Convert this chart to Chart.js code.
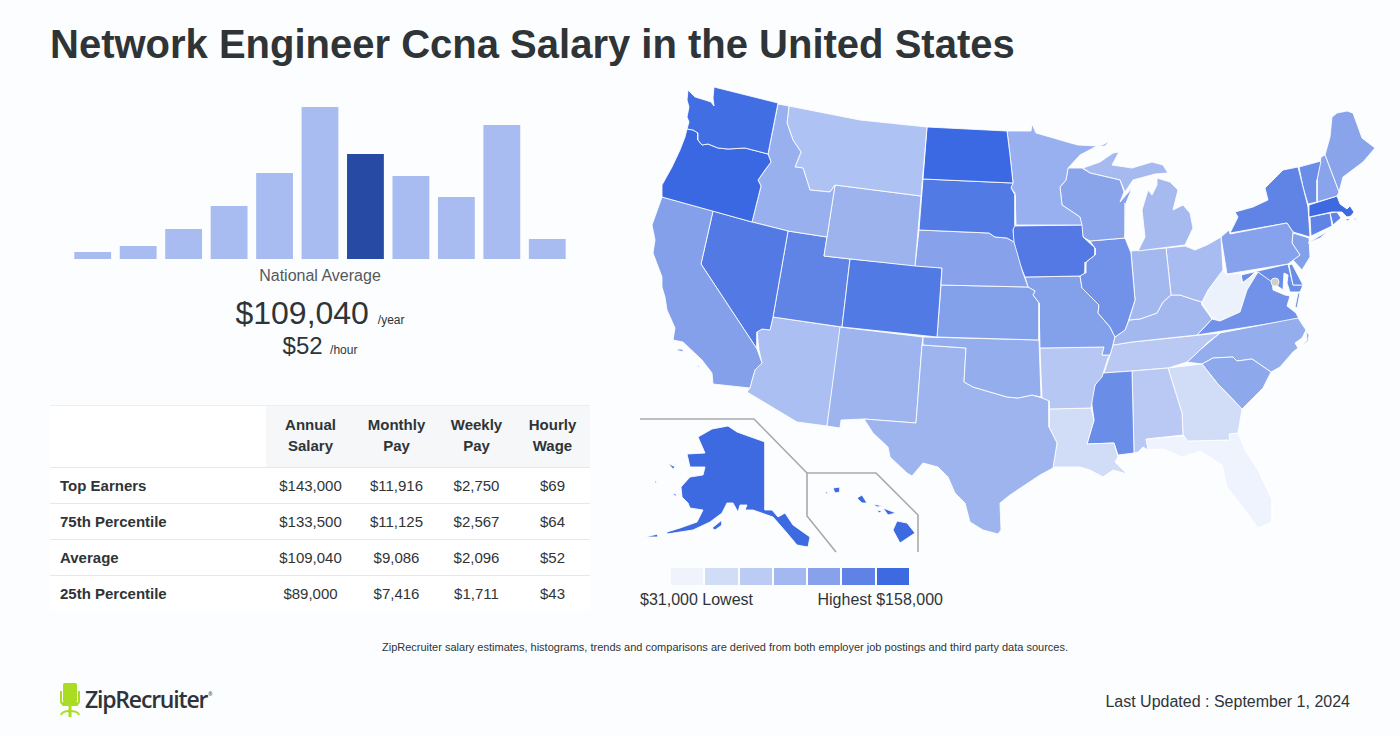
<!DOCTYPE html>
<html>
<head>
<meta charset="utf-8">
<title>Network Engineer Ccna Salary</title>
<script src="https://cdn.jsdelivr.net/npm/chart.js@4"></script>
<style>
  html, body { margin: 0; padding: 0; background: #fbfdff; }
  body { width: 1400px; height: 736px; position: relative; overflow: hidden; font-family: "Liberation Sans", sans-serif; color: #2f3437; }
  .abs { position: absolute; white-space: nowrap; }
  canvas { position: absolute; display: block; }
  h1 { position: absolute; left: 50px; top: 20px; margin: 0; font-size: 40px; line-height: 48px; font-weight: bold; white-space: nowrap; }
  .center { left: 50px; width: 540px; text-align: center; }
  table { position: absolute; left: 50px; top: 405px; width: 540px; border-collapse: collapse; table-layout: fixed; font-size: 15px; background: #fff; }
  th { background: #f6f7f9; font-weight: bold; line-height: 21px; height: 58px; padding: 0 0 3px; text-align: center; }
  th:first-child { background: #fff; }
  thead tr { border-top: 1px solid #eceef0; }
  td { height: 35px; padding: 0; text-align: center; border-top: 1px solid #e6e8ea; }
  td:first-child { text-align: left; padding-left: 10px; font-weight: bold; }
  .swatch { position: absolute; top: 568px; height: 17px; }
</style>
</head>
<body>
<h1>Network Engineer Ccna Salary in the United States</h1>

<canvas id="histChart" width="500" height="152" style="left:70px;top:107px"></canvas>
<div class="abs center" style="top:266px;font-size:16px;line-height:20px;color:#55595c">National Average</div>
<div class="abs center" style="top:294px;line-height:38px"><span style="font-size:32px">$109,040</span> <span style="font-size:12px;margin-left:4.5px">/year</span></div>
<div class="abs center" style="top:331px;line-height:30px"><span style="font-size:24px">$52</span> <span style="font-size:12px;margin-left:3px">/hour</span></div>

<table id="payTable"></table>

<canvas id="mapChart" width="740" height="480" style="left:640px;top:80px"></canvas>
<div id="legendBox"></div>
<div class="abs" style="left:640px;top:590px;font-size:16px;line-height:20px">$31,000 Lowest</div>
<div class="abs" style="left:817.5px;top:590px;font-size:16px;line-height:20px">Highest $158,000</div>

<div class="abs" style="left:0;width:1450px;text-align:center;top:640px;font-size:11px;line-height:14px">ZipRecruiter salary estimates, histograms, trends and comparisons are derived from both employer job postings and third party data sources.</div>

<svg class="abs" style="left:56px;top:680px" width="28" height="40" viewBox="0 0 28 40">
  <rect x="7" y="3" width="14" height="19" rx="1.5" fill="#a9dc22"/>
  <path d="M5 11v10q0 3 3 3h12q3 0 3-3V11" fill="none" stroke="#a9dc22" stroke-width="2"/>
  <rect x="6" y="22" width="16" height="4" rx="1" fill="#a9dc22"/>
  <rect x="12.5" y="25" width="3" height="12" fill="#a9dc22"/>
  <path d="M5 35q1-4 9-4t9 4" fill="none" stroke="#a9dc22" stroke-width="2"/>
</svg>
<div class="abs" style="left:85px;top:684px;font-family:'Open Sans';font-size:23px;line-height:30px;font-weight:600;letter-spacing:-1.2px;color:#2e343a">ZipRecruiter<sup style="font-size:5px;vertical-align:12px;margin-left:1px;line-height:0">®</sup></div>
<div class="abs" style="right:50px;top:692px;font-size:16px;line-height:20px">Last Updated : September 1, 2024</div>

<script>
// histogram
const histBins = ['b1','b2','b3','b4','b5','b6','b7','b8','b9','b10','b11'];
const histShare = [4.6, 8.6, 19.7, 34.9, 56.6, 100, 69.1, 54.6, 40.8, 88.2, 13.2];
const histHighlight = 6;

// pay table
const tableHead = ['', 'Annual<br>Salary', 'Monthly<br>Pay', 'Weekly<br>Pay', 'Hourly<br>Wage'];
const rowLabels = ['Top Earners', '75th Percentile', 'Average', '25th Percentile'];
const annualPay = ['$143,000', '$133,500', '$109,040', '$89,000'];
const monthlyPay = ['$11,916', '$11,125', '$9,086', '$7,416'];
const weeklyPay = ['$2,750', '$2,567', '$2,096', '$1,711'];
const hourlyPay = ['$69', '$64', '$52', '$43'];

// legend
const legendColors = ['#f0f3fc', '#d1dcf7', '#bccbf4', '#a3b7f0', '#87a1eb', '#5f82e6', '#3e6ae1'];
const legendLeft = [671, 705, 740, 774, 808, 842, 877];
const legendWide = [32, 33, 32, 32, 32, 33, 32];

// map outlines, x,y pairs in map units
const WA = [688,90,695,97,705,100,711,102,714,106,713,98,714,87,778,103,768,154,745,148,728,149,718,148,708,144,702,145,698,140,698,133,693,130,687,129,689,122,687,117,689,107,687,100];
const OR = [687,129,693,130,698,133,698,140,702,145,708,144,718,148,728,149,745,148,768,154,771,162,765,170,758,180,761,186,752,222,662,197,662,185,672,167,680,150,685,137];
const CA = [662,197,713,211,701,264,757,349,762,363,755,370,752,380,750,388,713,384,712,373,702,360,683,342,673,340,675,328,667,310,665,297,662,287,662,277,653,253,655,240,652,225];
const CA2 = [676,349,682,349,684,352,679,351];
const CA3 = [697,364,700,367,698,367];
const NV = [713,211,752,222,788,231,773,317,770,330,762,329,757,332,757,349,701,264];
const ID = [778,104,789,106,787,123,793,140,801,152,795,167,803,168,810,190,830,192,835,185,827,237,788,231,752,222,761,186,758,180,771,162,768,154];
const MT = [789,106,860,120,927,127,921,196,835,185,830,192,810,190,803,168,795,167,801,152,793,140,787,123];
const ND = [927,127,1007,131,1010,155,1013,183,923,179];
const SD = [923,179,1013,183,1011,188,1015,195,1015,225,1013,230,1014,242,1007,238,995,237,989,233,919,230];
const WY = [835,185,921,196,915,266,824,256];
const NE = [919,230,989,233,995,237,1007,238,1014,242,1022,270,1028,287,941,285,942,268,915,266];
const CO = [850,259,942,268,937,337,842,327];
const UT = [788,231,827,237,824,256,850,259,842,327,773,317];
const KS = [941,285,1028,287,1035,291,1033,295,1039,303,1039,340,937,337];
const OK = [923,337,1039,340,1041,397,1032,395,1018,398,1007,397,990,392,973,387,964,382,966,348,923,345];
const TX = [922,345,966,348,964,382,973,387,990,392,1007,397,1018,398,1032,395,1042,398,1049,401,1049,427,1057,443,1053,468,1040,475,1010,495,1000,503,1001,530,998,534,983,530,970,522,965,503,955,493,948,477,938,467,923,463,912,476,907,473,890,457,888,447,873,433,864,419,916,423];
const NM = [840,327,923,337,922,345,916,423,864,419,841,420,840,428,827,426];
const AZ = [773,317,841,327,827,426,797,422,747,392,750,388,752,380,755,370,762,363,759,350,757,332,762,329,770,330];
const MN = [1007,131,1031,131,1032,124,1036,133,1050,137,1067,142,1078,145,1097,146,1080,155,1068,168,1066,180,1060,187,1062,205,1080,217,1082,225,1016,225,1015,193,1011,188,1013,182,1010,155];
const IA = [1013,226,1082,225,1083,237,1095,248,1095,255,1086,262,1085,273,1080,276,1025,277,1017,257,1013,240];
const WI = [1068,168,1082,168,1090,173,1120,180,1124,192,1120,202,1132,188,1126,203,1125,238,1090,241,1083,237,1080,217,1062,205,1060,187,1066,180];
const MI1 = [1083,168,1100,162,1113,153,1119,152,1112,165,1132,168,1152,162,1163,165,1168,173,1155,174,1133,180,1125,192,1120,180,1090,173];
const MI2 = [1157,178,1170,182,1178,190,1173,210,1183,205,1190,213,1193,228,1185,245,1138,251,1145,237,1142,210,1148,190,1152,195,1157,185];
const MI3 = [1098,147,1110,141,1105,146];
const IL = [1090,241,1125,238,1131,253,1135,300,1128,322,1125,330,1115,337,1110,327,1098,313,1099,305,1082,288,1080,276,1085,273,1086,262,1095,255,1095,248];
const IN = [1131,251,1166,248,1171,295,1163,302,1157,313,1140,319,1129,320,1135,300];
const OH = [1166,248,1185,246,1195,250,1207,245,1221,237,1223,270,1208,290,1202,302,1195,300,1180,295,1171,295];
const KY = [1171,295,1180,295,1195,300,1202,302,1202,305,1212,319,1197,335,1132,342,1113,345,1115,337,1125,330,1129,320,1140,319,1157,313,1163,302];
const MO = [1025,277,1080,276,1082,288,1099,305,1098,313,1110,327,1115,337,1113,345,1110,355,1102,355,1104,347,1040,348,1039,303,1033,295,1035,291,1028,287];
const AR = [1040,348,1104,347,1102,355,1110,355,1108,358,1102,377,1095,385,1091,408,1049,409,1049,401,1042,398];
const LA = [1049,409,1091,408,1094,420,1087,444,1114,443,1118,457,1115,462,1127,474,1113,470,1103,477,1090,470,1080,467,1053,467,1057,443,1049,427];
const MS = [1103,373,1132,371,1134,453,1118,455,1114,443,1087,444,1094,420,1091,398,1095,385];
const AL = [1132,371,1168,368,1182,413,1183,435,1146,439,1148,450,1143,447,1138,452,1134,453];
const TN = [1113,345,1132,342,1220,333,1207,343,1197,353,1187,362,1168,368,1132,371,1104,373,1110,355];
const GA = [1168,368,1202,364,1217,383,1242,409,1238,433,1229,434,1230,440,1188,441,1183,435,1182,413];
const FL = [1146,439,1183,436,1188,441,1230,440,1229,434,1238,433,1245,450,1258,470,1272,500,1272,522,1258,528,1245,510,1227,487,1222,465,1200,451,1182,457,1163,449,1148,450];
const FL2 = [1250,539,1262,532,1270,525,1264,532];
const SC = [1202,364,1213,358,1233,357,1237,361,1252,359,1271,372,1263,388,1242,409,1217,383];
const NC = [1187,362,1200,350,1220,333,1298,318,1306,330,1302,338,1295,343,1298,348,1293,352,1280,367,1271,372,1252,359,1237,361,1233,357,1213,358,1202,364];
const NC2 = [1306,331,1309,335,1308,341,1302,346,1307,340];
const VA = [1197,335,1212,319,1220,321,1240,312,1247,290,1258,272,1265,277,1272,282,1273,290,1285,295,1290,296,1287,306,1296,313,1299,319];
const VA2 = [1295,307,1298,293,1300,293,1297,308];
const WV = [1223,270,1227,275,1241,273,1242,283,1257,272,1263,277,1247,290,1240,312,1220,321,1212,318,1202,303,1208,290];
const PA = [1221,237,1229,230,1230,234,1287,223,1293,232,1292,243,1300,255,1288,264,1227,274];
const NY = [1230,233,1238,217,1235,212,1253,207,1268,200,1265,188,1283,170,1298,167,1308,207,1310,237,1293,232,1287,223];
const NY2 = [1308,243,1328,231,1320,238];
const VT = [1299,167,1321,161,1317,180,1317,202,1308,204,1303,187];
const NH = [1321,157,1325,155,1339,192,1337,196,1317,202,1317,180];
const ME = [1325,155,1330,137,1332,117,1337,113,1347,111,1353,113,1362,138,1375,148,1363,162,1343,177,1339,192];
const MA = [1309,205,1337,196,1340,204,1347,209,1350,206,1354,212,1351,216,1347,217,1342,212,1332,212,1309,217];
const MA2 = [1345,219,1350,219,1348,221];
const MA3 = [1353,218,1357,219,1355,220];
const CT = [1310,217,1330,213,1332,226,1311,236];
const RI = [1330,213,1337,212,1341,218,1333,225];
const NJ = [1293,233,1309,238,1310,257,1302,270,1293,260,1300,255,1292,243];
const DE = [1289,265,1292,264,1303,285,1293,285];
const MD = [1241,275,1288,264,1293,285,1303,285,1300,292,1290,292,1287,283,1288,275,1284,273,1283,290,1275,284,1268,280,1259,273,1255,272,1243,284];
const AK = [728,426,737,432,765,442,765,510,772,510,778,517,785,513,793,525,810,537,808,547,797,545,787,533,773,517,753,510,745,510,747,505,740,505,738,512,733,503,727,503,722,513,710,522,693,530,667,534,667,532,680,528,697,522,703,510,690,508,688,503,682,497,681,487,690,477,703,475,705,467,690,467,687,454,705,453,698,437,712,429];
const AK2 = [712,528,722,520,722,525,715,530];
const AK3 = [645,537,658,534,658,537];
const AK4 = [668,463,675,467,673,469];
const AK5 = [672,493,678,495,675,496];
const AK6 = [655,480,657,483,655,483];
const HI1 = [833,488,840,487,840,492,835,493];
const HI2 = [825,493,828,491,827,494];
const HI3 = [857,498,862,495,867,503,862,503];
const HI4 = [873,504,883,506,877,507];
const HI5 = [877,510,882,511,879,513];
const HI6 = [883,508,896,513,888,515];
const HI7 = [897,521,907,523,915,533,900,543,893,530];

const mapOutlines = [WA,OR,CA,CA2,CA3,NV,ID,MT,ND,SD,WY,NE,CO,UT,KS,OK,TX,NM,AZ,MN,IA,WI,MI1,MI2,MI3,IL,IN,OH,KY,MO,AR,LA,MS,AL,TN,GA,FL,FL2,SC,NC,NC2,VA,VA2,WV,PA,NY,NY2,VT,NH,ME,MA,MA2,MA3,CT,RI,NJ,DE,MD,AK,AK2,AK3,AK4,AK5,AK6,HI1,HI2,HI3,HI4,HI5,HI6,HI7];
const mapColors = ['#426ee4','#3a67e2','#84a0ea','#84a0ea','#84a0ea','#5279e4','#98b0ee','#aec2f3','#3b68e3','#527ae5','#9db3ee','#87a1eb','#527ae5','#5f84e6','#83a0ea','#94adec','#9db4ee','#9db4ee','#acbff2','#98aff0','#5479e5','#8aa4ec','#a7baf0','#a7baf0','#a7baf0','#7192e8','#a4b8f0','#a9bcf1','#a4b8f0','#83a0ea','#b6c7f3','#d1dcf7','#6a8ee8','#b9c9f4','#b9c9f4','#d1dcf7','#eff3fd','#eff3fd','#8ea8ec','#94adec','#94adec','#7192e8','#7192e8','#ecf2fc','#87a2ec','#5f84e6','#5f84e6','#6a8ee8','#8aa4ec','#8aa4ec','#3e6ae1','#3e6ae1','#3e6ae1','#5f84e6','#5f84e6','#83a0ea','#6a8ee8','#6a8ee8','#3e6ae1','#3e6ae1','#3e6ae1','#3e6ae1','#3e6ae1','#3e6ae1','#3e6ae1','#3e6ae1','#3e6ae1','#3e6ae1','#3e6ae1','#3e6ae1','#3e6ae1'];
const dcPoint = [1275,282];
const alaskaFrame = [640,419,754,419,807,473,807,516,836,552];
const hawaiiFrame = [807,473,876,473,918,515,918,552];

function toPoints(list, close) {
  const pts = [];
  for (let i = 0; i < list.length; i += 2) pts.push({ x: list[i], y: list[i + 1] });
  if (close) pts.push({ x: list[0], y: list[1] });
  return pts;
}

// table
const table = document.getElementById('payTable');
let html = '<colgroup><col style="width:216px"><col style="width:89px"><col style="width:83px"><col style="width:77px"><col style="width:75px"></colgroup>';
html += '<thead><tr>' + tableHead.map(h => '<th>' + h + '</th>').join('') + '</tr></thead><tbody>';
rowLabels.forEach((label, i) => {
  html += '<tr><td>' + label + '</td><td>' + annualPay[i] + '</td><td>' + monthlyPay[i] + '</td><td>' + weeklyPay[i] + '</td><td>' + hourlyPay[i] + '</td></tr>';
});
table.innerHTML = html + '</tbody>';

// legend swatches
document.getElementById('legendBox').innerHTML = legendColors.map((c, i) =>
  '<div class="swatch" style="left:' + legendLeft[i] + 'px;width:' + legendWide[i] + 'px;background:' + c + '"></div>').join('');

new Chart(document.getElementById('histChart'), {
  type: 'bar',
  data: {
    labels: histBins,
    datasets: [{
      data: histShare,
      backgroundColor: histShare.map((v, i) => i === histHighlight ? '#274aa5' : '#a9bcf1'),
      borderWidth: 0,
      barPercentage: 0.81,
      categoryPercentage: 1
    }]
  },
  options: {
    responsive: false,
    animation: false,
    events: [],
    plugins: { legend: { display: false }, tooltip: { enabled: false } },
    scales: {
      x: { display: false },
      y: { display: false, min: 0, max: 100 }
    }
  }
});

// states are closed lines on a scatter chart, filled with the 'shape' mode
const mapSets = [
  { data: toPoints(dcPoint), showLine: false, pointRadius: 4, pointBackgroundColor: '#cfcfcf', pointBorderColor: '#f2f2f2', pointBorderWidth: 1 },
  { data: toPoints(alaskaFrame), showLine: true, pointRadius: 0, borderColor: '#a9a9a9', borderWidth: 1.6, fill: false },
  { data: toPoints(hawaiiFrame), showLine: true, pointRadius: 0, borderColor: '#a9a9a9', borderWidth: 1.6, fill: false }
];
mapOutlines.forEach((outline, i) => {
  mapSets.push({
    data: toPoints(outline, true),
    showLine: true,
    pointRadius: 0,
    borderColor: 'rgba(255,255,255,0.85)',
    borderWidth: 1,
    backgroundColor: mapColors[i],
    fill: 'shape'
  });
});

new Chart(document.getElementById('mapChart'), {
  type: 'scatter',
  data: { datasets: mapSets },
  options: {
    responsive: false,
    animation: false,
    events: [],
    layout: { autoPadding: false },
    plugins: { legend: { display: false }, tooltip: { enabled: false } },
    scales: {
      x: { type: 'linear', display: false, min: 640, max: 1380 },
      y: { type: 'linear', display: false, min: 80, max: 560, reverse: true }
    }
  }
});
</script>
</body>
</html>
